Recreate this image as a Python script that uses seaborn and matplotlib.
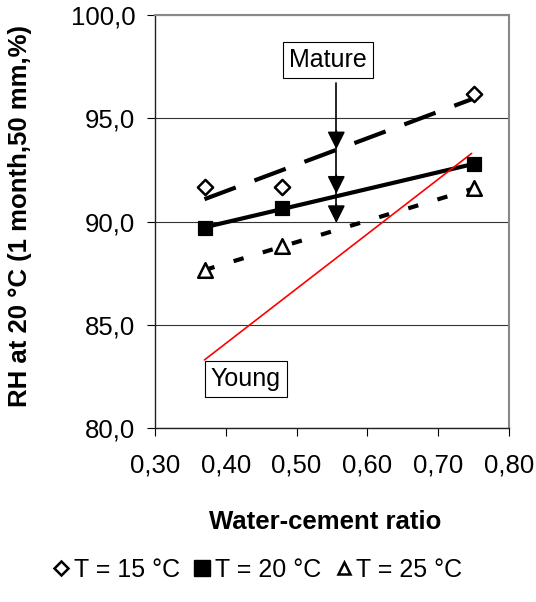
import numpy as np
import pandas as pd
import matplotlib
matplotlib.use("Agg")
import matplotlib.pyplot as plt
from matplotlib.lines import Line2D
from matplotlib.ticker import FuncFormatter
import seaborn as sns

wc = [0.37, 0.48, 0.75]
rh_15 = [91.67, 91.67, 96.2]
rh_20 = [89.69, 90.65, 92.78]
rh_25 = [87.65, 88.8, 91.6]
young_x = [0.37, 0.747]
young_y = [83.3, 93.3]
series_labels = ["T = 15 °C", "T = 20 °C", "T = 25 °C"]
x_ticks = [0.30, 0.40, 0.50, 0.60, 0.70, 0.80]
y_ticks = [80, 85, 90, 95, 100]

sns.set_theme(style="white")
plt.rcParams['font.family'] = ['Liberation Sans', 'DejaVu Sans']
plt.rcParams['text.color'] = 'black'
plt.rcParams['xtick.color'] = 'black'
plt.rcParams['ytick.color'] = 'black'
plt.rcParams['axes.labelcolor'] = 'black'

FS = 18.5

fig = plt.figure(figsize=(5.36, 6.02), dpi=100)
ax = fig.add_axes([0.289, 0.289, 0.661, 0.686])

# trend lines
sns.regplot(x=wc, y=rh_15, ax=ax, scatter=False, ci=None, truncate=True,
            line_kws=dict(color="black", lw=3, dashes=(8, 4.8)))
sns.regplot(x=wc, y=rh_20, ax=ax, scatter=False, ci=None, truncate=True,
            line_kws=dict(color="black", lw=3))
sns.regplot(x=wc, y=rh_25, ax=ax, scatter=False, ci=None, truncate=True,
            line_kws=dict(color="black", lw=3, dashes=(2.5, 4.8)))

# markers
sns.scatterplot(x=wc, y=rh_15, ax=ax, marker="D", s=60, facecolor="white",
                edgecolor="black", linewidth=1.8, zorder=5)
sns.scatterplot(x=wc, y=rh_20, ax=ax, marker="s", s=115, color="black",
                edgecolor="black", zorder=5)
sns.scatterplot(x=wc, y=rh_25, ax=ax, marker="^", s=110, facecolor="white",
                edgecolor="black", linewidth=1.8, zorder=5)

# young line
sns.lineplot(x=young_x, y=young_y, ax=ax, color="red", lw=1.2)

# annotations
bbox = dict(boxstyle="square,pad=0.25", fc="white", ec="black", lw=0.8)
ax.text(0.544, 97.82, "Mature", ha="center", va="center", fontsize=18, bbox=bbox, zorder=6)
ax.text(0.4285, 82.37, "Young", ha="center", va="center", fontsize=18, bbox=bbox, zorder=6)
ax_x = 0.556
ax.plot([ax_x, ax_x], [96.7, 90.2], color="black", lw=1.2, zorder=6)
for tip in [93.5, 91.35, 89.93]:
    ax.annotate("", xy=(ax_x, tip), xytext=(ax_x, tip + 0.9),
                arrowprops=dict(arrowstyle="-|>,head_length=0.9,head_width=0.45",
                                color="black", lw=1.2, shrinkA=0, shrinkB=0),
                zorder=6)

ax.set_xlim(0.30, 0.80)
ax.set_ylim(80, 100)
ax.set_xticks(x_ticks)
ax.set_yticks(y_ticks)
ax.xaxis.set_major_formatter(FuncFormatter(lambda v, p: f"{v:.2f}".replace(".", ",")))
ax.yaxis.set_major_formatter(FuncFormatter(lambda v, p: f"{v:.1f}".replace(".", ",")))
ax.yaxis.grid(True, color="#333333", lw=0.8)
ax.xaxis.grid(False)
ax.tick_params(axis="both", direction="out", length=6, width=0.8, colors="black",
               labelsize=FS, bottom=True, left=True)
ax.tick_params(axis="x", pad=12)
ax.tick_params(axis="y", pad=8)
for side in ["top", "right"]:
    ax.spines[side].set_color("#888888")
    ax.spines[side].set_linewidth(1.5)
for side in ["left", "bottom"]:
    ax.spines[side].set_color("#222222")
    ax.spines[side].set_linewidth(1.0)

ax.set_xlabel("")
ax.set_ylabel("")
fig.text(325.5 / 536, 1 - 522 / 602, "Water-cement ratio", fontsize=FS,
         fontweight="bold", ha="center", va="center", color="black")
fig.text(20 / 536, 1 - 216 / 602, "RH at 20 °C (1 month,50 mm,%)", fontsize=FS,
         fontweight="bold", ha="center", va="center", rotation=90, color="black")

handles = [
    Line2D([], [], marker="D", ls="none", mfc="white", mec="black", mew=1.8, ms=7),
    Line2D([], [], marker="s", ls="none", mfc="black", mec="black", ms=11),
    Line2D([], [], marker="^", ls="none", mfc="white", mec="black", mew=1.8, ms=8.5),
]
fig.legend(handles, series_labels, loc="center", bbox_to_anchor=(256 / 536, 1 - 570 / 602), ncol=3,
           frameon=False, fontsize=18, handletextpad=0.05, columnspacing=0.45,
           handlelength=0.9, borderpad=0, labelcolor="black")

fig.savefig("out.png", dpi=100)
